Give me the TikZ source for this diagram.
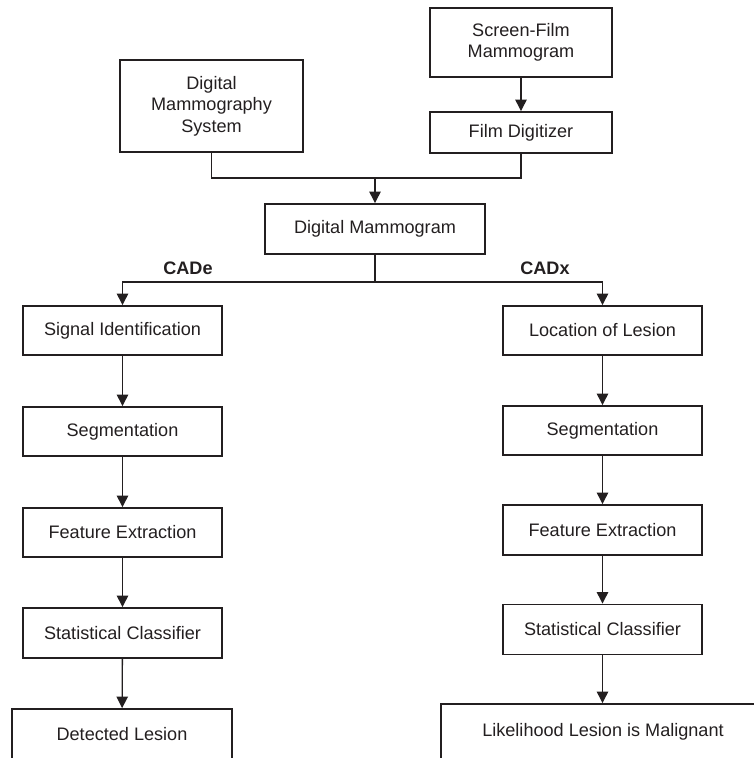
\documentclass[tikz,border=0pt]{standalone}
\usepackage{fontspec}
\setmainfont{Liberation Sans}
\usetikzlibrary{arrows.meta}
\definecolor{MGInk}{HTML}{231F20}

\begin{document}
\begin{tikzpicture}[x=0.02cm,y=-0.02cm,
  box/.style 2 args={draw=MGInk,line width=1.1pt,minimum width=#1,minimum height=#2,inner sep=0pt,align=center,text=MGInk,font=\fontsize{10.3}{12.2}\selectfont},
  link/.style={draw=MGInk,line width=0.75pt},
  arr/.style={link,-{Triangle[width=2.3mm,length=2.3mm]}},
  tag/.style={text=MGInk,font=\fontsize{10.3}{12.2}\selectfont\bfseries}]
\path[use as bounding box,clip] (0,0) rectangle (754,758);
\node[box={3.66cm}{1.84cm}] (dms) at (211.5,106) {Digital\\Mammography\\System};
\node[box={3.64cm}{1.38cm}] (sfm) at (521,42.5) {Screen-Film\\Mammogram};
\node[box={3.64cm}{0.82cm}] (fdg) at (521,132.5) {Film Digitizer};
\node[box={4.40cm}{1.00cm}] (dmg) at (375,229) {Digital Mammogram};
\coordinate (join) at (375,178);
\coordinate (split) at (375,282);
\node[tag] (cade) at (188,268) {CADe};
\node[tag] (cadx) at (545,268) {CADx};
\node[box={3.98cm}{0.98cm}] (sig) at (122.5,330.5) {Signal Identification};
\node[box={3.98cm}{0.98cm}] (segl) at (122.5,431.5) {Segmentation};
\node[box={3.98cm}{0.98cm}] (featl) at (122.5,532.5) {Feature Extraction};
\node[box={3.98cm}{1.00cm}] (statl) at (122.5,633) {Statistical Classifier};
\node[box={4.40cm}{1.00cm}] (det) at (122,734) {Detected Lesion};
\node[box={3.98cm}{0.98cm}] (loc) at (602.5,330.5) {Location of Lesion};
\node[box={3.98cm}{0.98cm}] (segr) at (602.5,430.5) {Segmentation};
\node[box={3.98cm}{1.00cm}] (featr) at (602.5,530) {Feature Extraction};
\node[box={3.98cm}{1.00cm}] (statr) at (602.5,629.5) {Statistical Classifier};
\node[box={6.48cm}{1.10cm}] (lik) at (603,731.5) {Likelihood Lesion is Malignant};
\draw[arr] (sfm) -- (fdg);
\draw[link] (dms.south) |- (join) -| (fdg.south);
\draw[arr] (join) -- (dmg);
\draw[link] (dmg) -- (split);
\draw[arr] (split) -| (sig.north);
\draw[arr] (split) -| (loc.north);
\draw[arr] (sig) -- (segl);
\draw[arr] (segl) -- (featl);
\draw[arr] (featl) -- (statl);
\draw[arr] (statl) -- (det);
\draw[arr] (loc) -- (segr);
\draw[arr] (segr) -- (featr);
\draw[arr] (featr) -- (statr);
\draw[arr] (statr.south) -- (statr.south|-lik.north);
\end{tikzpicture}
\end{document}
